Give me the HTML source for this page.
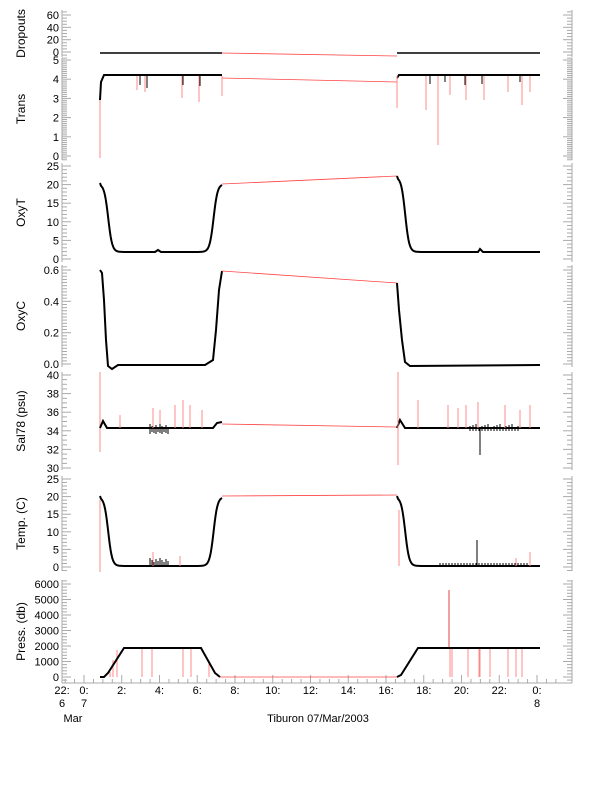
<!DOCTYPE html>
<html><head><meta charset="utf-8"><style>
body{margin:0;background:#fff}
svg{display:block;font-family:"Liberation Sans",sans-serif}
</style></head><body>
<svg id="s" width="612" height="785" xmlns="http://www.w3.org/2000/svg"></svg>
<script>
const S=document.getElementById('s');let h='';
const X=t=>84+18.875*t;
function ax(y0v,y0,y1v,y1,top,bot,maj,minr,lab,labels){
 const Y=v=>y0+(v-y0v)*(y1-y0)/(y1v-y0v);
 const vb=y0v+(bot-y0)*(y1v-y0v)/(y1-y0), vt=y0v+(top-y0)*(y1v-y0v)/(y1-y0);
 h+=`<line x1="62" y1="${top}" x2="62" y2="${bot}" stroke="#aaa"/><line x1="572" y1="${top}" x2="572" y2="${bot}" stroke="#aaa"/>`;
 for(let v=Math.ceil(vb/minr)*minr;v<=vt+1e-9;v+=minr){const y=Y(v).toFixed(1);const m=Math.abs(v/maj-Math.round(v/maj))<1e-6;const L=m?9:5;
  h+=`<line x1="62" y1="${y}" x2="${62+L}" y2="${y}" stroke="#aaa"/><line x1="572" y1="${y}" x2="${572-L}" y2="${y}" stroke="#aaa"/>`;}
 labels.forEach(v=>{h+=`<text x="59" y="${Y(v)+4}" font-size="11" text-anchor="end">${v}</text>`});
 const cy=(top+bot)/2;h+=`<text transform="translate(25,${cy}) rotate(-90)" font-size="12" text-anchor="middle">${lab}</text>`;
 return Y;
}
function pl(pts,c,w){h+=`<polyline points="${pts.map(p=>p[0].toFixed(1)+','+p[1].toFixed(1)).join(' ')}" fill="none" stroke="${c}" stroke-width="${w}"/>`}
function spk(x,y1,y2,c){h+=`<line x1="${x}" y1="${y1}" x2="${x}" y2="${y2}" stroke="${c||'#f88'}" stroke-width="1"/>`}
// Dropouts
let Y=ax(0,52,60,15,10,57,20,5,'Dropouts',[0,20,40,60]);
pl([[100,53],[222,53]],'#000',1.5);pl([[222,53],[397,56]],'#f44',0.8);pl([[397,53],[540,53]],'#000',1.5);
// Trans
Y=ax(0,156,5,60,58,160,1,0.1,'Trans',[0,1,2,3,4,5]);
spk(100,158,90);pl([[100,100],[101,82],[104,75],[222,75]],'#000',2);pl([[222,78],[397,82]],'#f44',0.8);pl([[397,78],[399,75],[540,75]],'#000',2);
[[137,90],[145,92],[182,98],[199,102],[222,96],[426,110],[438,145],[450,95],[466,100],[484,100],[508,92],[522,105],[530,92],[397,108]].forEach(a=>spk(a[0],76,a[1]));
[[140,85],[147,88],[183,85],[200,86],[430,84],[445,82],[465,85],[482,84],[520,82]].forEach(a=>spk(a[0],76,a[1],'#000'));
// OxyT
Y=ax(0,259,25,166,163,262,5,1,'OxyT',[0,5,10,15,20,25]);
function dropc(x0,x1,yh,yl,n){let p=[];for(let i=0;i<=n;i++){let f=i/n,s=1/(1+Math.exp(-(f-0.3)*12));p.push([x0+(x1-x0)*f,yh+(yl-yh)*s])}return p}
function risec(x0,x1,yl,yh,n){let p=[];for(let i=0;i<=n;i++){let f=i/n,s=1/(1+Math.exp(-(f-0.65)*12));p.push([x0+(x1-x0)*f,yl+(yh-yl)*s])}return p}
pl([[100,183],...dropc(101,125,184,252,30),[155,252],[158,250],[161,252],[198,252],...risec(198,222,252,184,30)],'#000',2);
pl([[222,184],[397,176]],'#f44',0.8);
pl([[397,176],...dropc(398,422,177,252,30),[478,252],[480,249],[483,252],[540,252]],'#000',2);
// OxyC
Y=ax(0,364,0.6,270,265,367,0.2,0.02,'OxyC',[0.0,0.2,0.4,0.6].map(v=>v.toFixed(1)));
pl([[100,270],[102,273],[104,300],[106,340],[108,366],[112,369],[118,365],[205,365],[213,360],[216,330],[219,290],[222,271]],'#000',2);
pl([[222,271],[397,283]],'#f44',0.8);
pl([[397,283],[399,310],[402,340],[405,362],[410,366],[540,365]],'#000',2);
// Sal
Y=ax(30,468,40,375,372,470,2,0.5,'Sal78 (psu)',[30,32,34,36,38,40]);
const d=84;
spk(100,372,452);pl([[100,344+d],[103,337+d],[107,344+d],[213,344+d],[217,339+d],[222,338+d]],'#000',2);pl([[222,340+d],[397,343+d]],'#f44',0.8);
pl([[397,344+d],[400,336+d],[405,344+d],[540,344+d]],'#000',2);
[[153,408],[160,410],[175,405],[183,400],[190,405],[202,410],[418,400],[448,405],[458,408],[466,405],[478,402],[505,405],[530,405],[120,415],[520,410]].forEach(a=>spk(a[0],344+d,a[1]));
spk(398,372,465);spk(480,428,455,'#000');
for(let x=150;x<170;x+=2)spk(x,d+340+(x%5),d+350-(x%3),'#000');
for(let x=470;x<520;x+=3)spk(x,d+340+(x%4),d+349-(x%3),'#000');
// Temp
Y=ax(0,567,25,479,476,571,5,1,'Temp. (C)',[0,5,10,15,20,25]);
spk(100,500,572);
pl([[100,496],...dropc(101,125,497,566,30),[198,566],...risec(198,222,566,497,30)],'#000',2);
pl([[222,496],[397,495]],'#f44',0.8);
pl([[397,496],...dropc(398,422,497,566,30),[540,566]],'#000',2);
[[153,552],[180,556],[399,510],[477,540],[516,558],[530,552]].forEach(a=>spk(a[0],566,a[1]));
for(let x=150;x<170;x+=2)spk(x,558+(x%5),566,'#000');
for(let x=440;x<530;x+=3)spk(x,561+(x%3),566,'#000');spk(477,540,566,'#000');
// Press
Y=ax(0,677,6000,584,580,683,1000,200,'Press. (db)',[0,1000,2000,3000,4000,5000,6000]);
h+='<line x1="62" y1="683" x2="572" y2="683" stroke="#aaa"/>';
for(let t=-1;t<=25;t+=0.5){let x=X(t),m=t%2==0;h+=`<line x1="${x}" y1="683" x2="${x}" y2="${683-(m?8:4)}" stroke="#aaa"/>`}
[[110,672],[113,660],[117,650],[142,648],[152,648],[183,648],[191,648],[209,662]].forEach(a=>spk(a[0],677,a[1]));
[[450,677],[452,677],[468,677],[479,677],[480,677],[490,677],[508,677],[516,677],[522,677]].forEach(a=>spk(a[0],648,a[1]));
spk(449,648,590,'#d44');
pl([[100,677],[104,677],[108,673],[124,648],[201,648],[215,673],[220,677]],'#000',2);
pl([[220,677],[397,677]],'#f44',0.8);
pl([[397,677],[401,675],[418,648],[540,648]],'#000',2);
// x labels
[[-2,'22:',62],[0,'0:',84],[2,'2:'],[4,'4:'],[6,'6:'],[8,'8:'],[10,'10:'],[12,'12:'],[14,'14:'],[16,'16:'],[18,'18:'],[20,'20:'],[22,'22:'],[24,'0:',537]].forEach(a=>{let x=a[2]||X(a[0]);h+=`<text x="${x}" y="694" font-size="11" text-anchor="middle">${a[1]}</text>`});
h+=`<text x="62" y="707" font-size="11" text-anchor="middle">6</text><text x="84" y="707" font-size="11" text-anchor="middle">7</text><text x="537" y="707" font-size="11" text-anchor="middle">8</text>`;
h+=`<text x="73" y="722" font-size="11" text-anchor="middle">Mar</text><text x="318" y="722" font-size="11" text-anchor="middle">Tiburon 07/Mar/2003</text>`;
S.innerHTML=h;
</script>
</body></html>
